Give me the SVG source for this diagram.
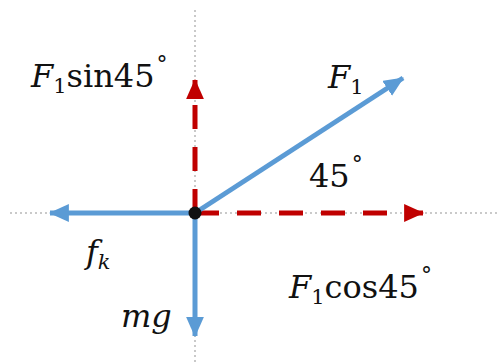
<svg xmlns="http://www.w3.org/2000/svg" width="500" height="363" viewBox="0 0 500 363">
<style>
.axis{stroke:#b8b8b8;stroke-width:1.5;stroke-dasharray:2 3;fill:none}
.force{stroke:#5B9BD5;stroke-width:5;fill:none}
.comp{stroke:#C00000;stroke-width:5;fill:none;stroke-dasharray:24 18}
text{font-family:"DejaVu Serif","Liberation Serif",serif;font-size:32px;fill:#111}
.it{font-style:italic}
.sub{font-size:21px}
.deg{font-size:22px}
</style>
<defs>
<marker id="ab" markerUnits="userSpaceOnUse" markerWidth="20" markerHeight="18" refX="17" refY="8" orient="auto" viewBox="0 0 18 16">
<path d="M0,0 L18,8 L0,16 Z" fill="#5B9BD5"/>
</marker>
<marker id="ar" markerUnits="userSpaceOnUse" markerWidth="20" markerHeight="18" refX="17" refY="8" orient="auto" viewBox="0 0 18 16">
<path d="M0,0 L18,8 L0,16 Z" fill="#C00000"/>
</marker>
</defs>
<g id="axes">
<line class="axis" x1="195" y1="10" x2="195" y2="363"/>
<line class="axis" x1="10" y1="213" x2="500" y2="213"/>
</g>
<g id="connectors">
<path class="comp" d="M195,213 L195,80" marker-end="url(#ar)"/>
<path class="comp" d="M195,213 L423,213" marker-end="url(#ar)"/>
<path class="force" d="M195,213 L403,78" marker-end="url(#ab)"/>
<path class="force" d="M195,213 L50,213" marker-end="url(#ab)"/>
<path class="force" d="M195,213 L195,336" marker-end="url(#ab)"/>
</g>
<g id="origin"><circle cx="195" cy="213" r="6.5" fill="#111"/></g>
<g id="label-F1sin">
<text x="31" y="87"><tspan class="it">F</tspan><tspan class="sub" dy="6">1</tspan><tspan dy="-6">sin45</tspan><tspan class="deg" dx="2" dy="-15">°</tspan></text>
</g>
<g id="label-F1">
<text x="328" y="88"><tspan class="it">F</tspan><tspan class="sub" dy="6">1</tspan></text>
</g>
<g id="label-45">
<text x="309" y="187">45<tspan class="deg" dx="2" dy="-15">°</tspan></text>
</g>
<g id="label-fk">
<text x="86" y="263" class="it">f<tspan class="sub" dy="6">k</tspan></text>
</g>
<g id="label-mg">
<text x="121" y="327" class="it">mg</text>
</g>
<g id="label-F1cos">
<text x="289" y="298"><tspan class="it">F</tspan><tspan class="sub" dy="6">1</tspan><tspan dy="-6">cos45</tspan><tspan class="deg" dx="2" dy="-15">°</tspan></text>
</g>
</svg>
